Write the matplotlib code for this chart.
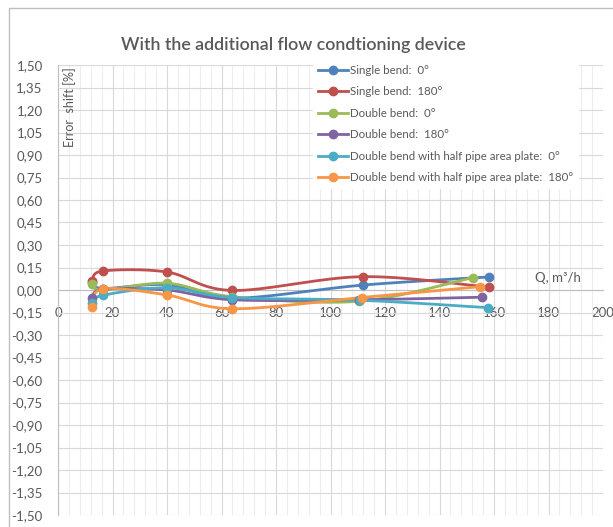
import numpy as np
import matplotlib
matplotlib.use("Agg")
import matplotlib.pyplot as plt
from matplotlib.patches import Rectangle
from matplotlib.ticker import MultipleLocator, FuncFormatter

# Flow rate Q [m3/h] and error shift [%] per installation
q_single_0 = [12.5, 16.5, 40, 64, 112, 158.3]
e_single_0 = [0.055, 0.010, 0.035, -0.055, 0.033, 0.087]

q_single_180 = [12.5, 16.5, 40, 64, 112, 158.3]
e_single_180 = [0.060, 0.127, 0.120, -0.003, 0.089, 0.018]

q_double_0 = [12.5, 16.5, 40, 64, 110.5, 152.2]
e_double_0 = [0.040, 0.000, 0.045, -0.045, -0.075, 0.082]

q_double_180 = [12.5, 16.5, 40, 64, 110.5, 155.5]
e_double_180 = [-0.055, 0.005, 0.000, -0.065, -0.065, -0.048]

q_plate_0 = [12.5, 16.5, 40, 64, 110.8, 157.9]
e_plate_0 = [-0.085, -0.035, 0.015, -0.050, -0.068, -0.118]

q_plate_180 = [12.5, 16.5, 40, 64, 111.4, 154.9]
e_plate_180 = [-0.110, 0.008, -0.033, -0.125, -0.050, 0.022]

labels = [
    "Single bend:  0°",
    "Single bend:  180°",
    "Double bend:  0°",
    "Double bend:  180°",
    "Double bend with half pipe area plate:  0°",
    "Double bend with half pipe area plate:  180°",
]
colors = ["#4F81BD", "#C0504D", "#9BBB59", "#8064A2", "#4BACC6", "#F79646"]
series = [
    (q_single_0, e_single_0),
    (q_single_180, e_single_180),
    (q_double_0, e_double_0),
    (q_double_180, e_double_180),
    (q_plate_0, e_plate_0),
    (q_plate_180, e_plate_180),
]

TXT = "#595959"
GRID = "#D9D9D9"


def smooth(x, y, n=30):
    """Catmull-Rom style smoothing like a spreadsheet's smoothed line."""
    x = np.asarray(x, float)
    y = np.asarray(y, float)
    px = np.concatenate([[x[0]], x, [x[-1]]])
    py = np.concatenate([[y[0]], y, [y[-1]]])
    xs, ys = [], []
    t = np.linspace(0, 1, n)
    for i in range(1, len(px) - 2):
        p0, p1, p2, p3 = (np.array([px[j], py[j]]) for j in range(i - 1, i + 3))
        c1 = p1 + (p2 - p0) / 6
        c2 = p2 - (p3 - p1) / 6
        seg = ((1 - t) ** 3)[:, None] * p1 + (3 * (1 - t) ** 2 * t)[:, None] * c1 \
            + (3 * (1 - t) * t ** 2)[:, None] * c2 + (t ** 3)[:, None] * p2
        xs.append(seg[:, 0])
        ys.append(seg[:, 1])
    return np.concatenate(xs), np.concatenate(ys)


plt.rcParams["font.family"] = ["Lato", "DejaVu Sans"]

fig = plt.figure(figsize=(6.13, 5.27), dpi=100)
ax = fig.add_axes([58 / 613, 12 / 527, 545 / 613, 450 / 527])

# outer chart frame
fig.add_artist(Rectangle((9 / 613, -0.1), 1.0, (527 - 8) / 527 + 0.1,
                         transform=fig.transFigure, fill=False,
                         edgecolor="#BFBFBF", linewidth=1.0))

for (q, e), lab, c in zip(series, labels, colors):
    sx, sy = smooth(q, e)
    ax.plot(sx, sy, color=c, linewidth=2.0, zorder=3)
    ax.plot(q, e, "o", color=c, markersize=6, zorder=4)
    ax.plot([], [], color=c, linewidth=2.0, marker="o", markersize=6, label=lab)

ax.set_xlim(0, 200)
ax.set_ylim(-1.5, 1.5)
ax.xaxis.set_major_locator(MultipleLocator(20))
ax.xaxis.set_minor_locator(MultipleLocator(4))
ax.yaxis.set_major_locator(MultipleLocator(0.15))
ax.yaxis.set_major_formatter(FuncFormatter(lambda v, p: f"{v:.2f}".replace(".", ",").replace("-0,00", "0,00")))

ax.grid(which="major", color=GRID, linewidth=0.8, zorder=0)
ax.grid(which="minor", axis="x", color="#EDEDED", linewidth=0.8, zorder=0)

for s in ["top", "right"]:
    ax.spines[s].set_visible(False)
ax.spines["bottom"].set_position(("data", 0))
ax.spines["bottom"].set_color("#BFBFBF")
ax.spines["left"].set_color("#BFBFBF")

ax.tick_params(axis="both", which="both", length=0, colors=TXT, labelsize=9.5)
ax.tick_params(axis="x", pad=12)
ax.tick_params(axis="y", pad=11)

ax.text(183.5, 0.08, "Q, m³/h", color=TXT, fontsize=9.5, ha="center", va="center")
ax.text(0.022, 0.996, "Error  shift [%]", transform=ax.transAxes, rotation=90,
        color=TXT, fontsize=9, ha="center", va="top")

fig.text(293 / 613, 1 - 45 / 527, "With the additional flow condtioning device",
         ha="center", va="center", color=TXT, fontsize=12.8, fontweight="semibold")

leg = ax.legend(loc="upper left", bbox_to_anchor=(255 / 545, 1.01), frameon=True,
                fontsize=8.3, labelcolor=TXT, handlelength=2.6, handletextpad=0.2,
                labelspacing=0.9, borderaxespad=0)
leg.get_frame().set_facecolor("white")
leg.get_frame().set_edgecolor("white")
leg.get_frame().set_alpha(1)

fig.savefig("out.png", dpi=100)
